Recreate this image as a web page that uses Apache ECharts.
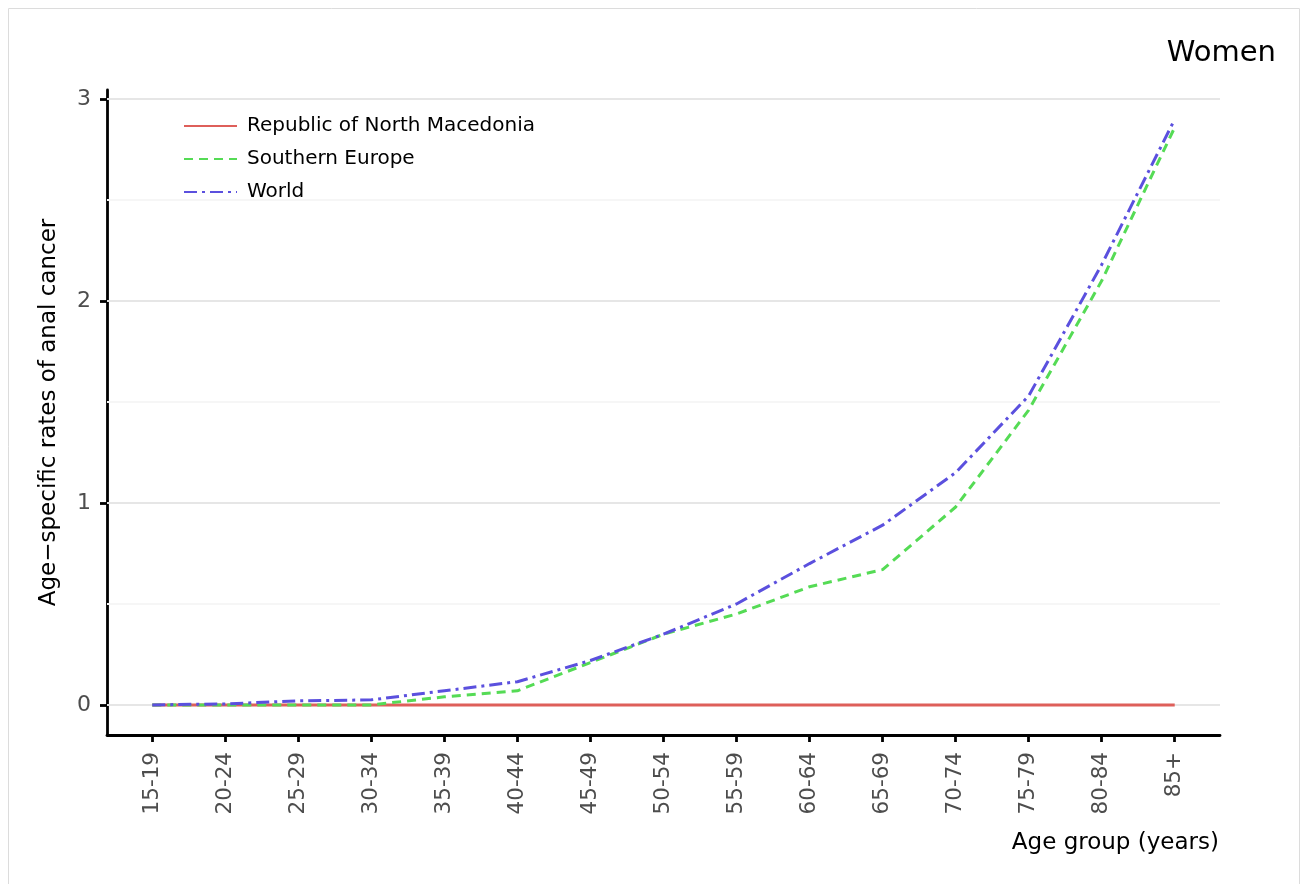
<!DOCTYPE html>
<html><head><meta charset="utf-8">
<script src="https://cdn.jsdelivr.net/npm/echarts@6/dist/echarts.min.js"></script>
<style>html,body{margin:0;padding:0;background:#fff}#c{width:1309px;height:884px}</style>
</head><body><div id="c"></div>
<script>
const categories = ['15-19','20-24','25-29','30-34','35-39','40-44','45-49','50-54','55-59','60-64','65-69','70-74','75-79','80-84','85+'];
const macedonia = [0,0,0,0,0,0,0,0,0,0,0,0,0,0,0];
const southernEurope = [0,0,0,0,0.04,0.07,0.21,0.35,0.45,0.585,0.67,0.98,1.46,2.10,2.86];
const world = [0,0.005,0.02,0.025,0.07,0.115,0.22,0.35,0.5,0.70,0.89,1.15,1.53,2.18,2.90];
const yTicks = [0,1,2,3];
const minorTicks = [0.5,1.5,2.5];

const toPts = arr => arr.map((v,i)=>[i,v]);
const F = 'DejaVu Sans';
const chart = echarts.init(document.getElementById('c'));
chart.setOption({
  animation:false,
  textStyle:{fontFamily:F},
  graphic:[{type:'rect',shape:{x:8.5,y:8.5,width:1291,height:900},style:{fill:'none',stroke:'#dcdcdc',lineWidth:1},z:-10},
           {type:'text',right:33,top:39,style:{text:'Women',font:'29px "DejaVu Sans"',fill:'#000'}}],
  grid:{left:107,right:89,top:90,bottom:149,containLabel:false},
  legend:{orient:'vertical',left:178,top:111,itemWidth:53,itemHeight:14,itemGap:13,
    itemStyle:{opacity:0},
    textStyle:{fontFamily:F,fontSize:20,lineHeight:20,color:'#000',padding:[0,0,0,5]},
    data:['Republic of North Macedonia','Southern Europe','World']},
  xAxis:{type:'value',min:-0.62,max:14.62,
    name:'Age group (years)',nameLocation:'end',
    nameTextStyle:{fontFamily:F,fontSize:23,color:'#000',align:'right',verticalAlign:'top',padding:[97,0,0,0]},
    nameGap:-1,
    axisLine:{show:true,onZero:false,lineStyle:{color:'#000',width:2.8}},
    axisTick:{show:true,length:7,lineStyle:{color:'#000',width:2.8},customValues:categories.map((c,i)=>i)},
    axisLabel:{rotate:90,fontFamily:F,fontSize:21.5,color:'#4d4d4d',margin:17,customValues:categories.map((c,i)=>i),
      formatter:v=>categories[Math.round(v)]??''},
    splitLine:{show:false}},
  yAxis:{type:'value',min:-0.149,max:3.045,
    name:'Age\u2212specific rates of anal cancer',nameLocation:'middle',nameGap:46,
    nameTextStyle:{fontFamily:F,fontSize:23,color:'#000'},
    axisLine:{show:true,onZero:false,lineStyle:{color:'#000',width:2.8}},
    axisTick:{show:true,length:7,lineStyle:{color:'#000',width:2.8},customValues:yTicks},
    axisLabel:{fontFamily:F,fontSize:22,color:'#4d4d4d',margin:16,customValues:yTicks},
    splitLine:{show:false}},
  series:[
    {name:'grid',type:'line',data:[],silent:true,legendHoverLink:false,z:0,
      markLine:{silent:true,symbol:'none',label:{show:false},animation:false,
        data:[...yTicks.map(v=>({yAxis:v,lineStyle:{color:'#e6e6e6',width:2,type:'solid'}})),
              ...minorTicks.map(v=>({yAxis:v,lineStyle:{color:'#f6f6f6',width:2,type:'solid'}}))]}},
    {name:'Republic of North Macedonia',type:'line',data:toPts(macedonia),symbol:'none',
      lineStyle:{color:'#DE5F5A',width:3,type:'solid'},itemStyle:{color:'#DE5F5A'},z:5},
    {name:'Southern Europe',type:'line',data:toPts(southernEurope),symbol:'none',
      lineStyle:{color:'#55DB55',width:3,type:[9,6]},itemStyle:{color:'#55DB55'},z:6},
    {name:'World',type:'line',data:toPts(world),symbol:'none',
      lineStyle:{color:'#5B50DE',width:3,type:[13,5,3,5]},itemStyle:{color:'#5B50DE'},z:7}
  ]
});
</script></body></html>
